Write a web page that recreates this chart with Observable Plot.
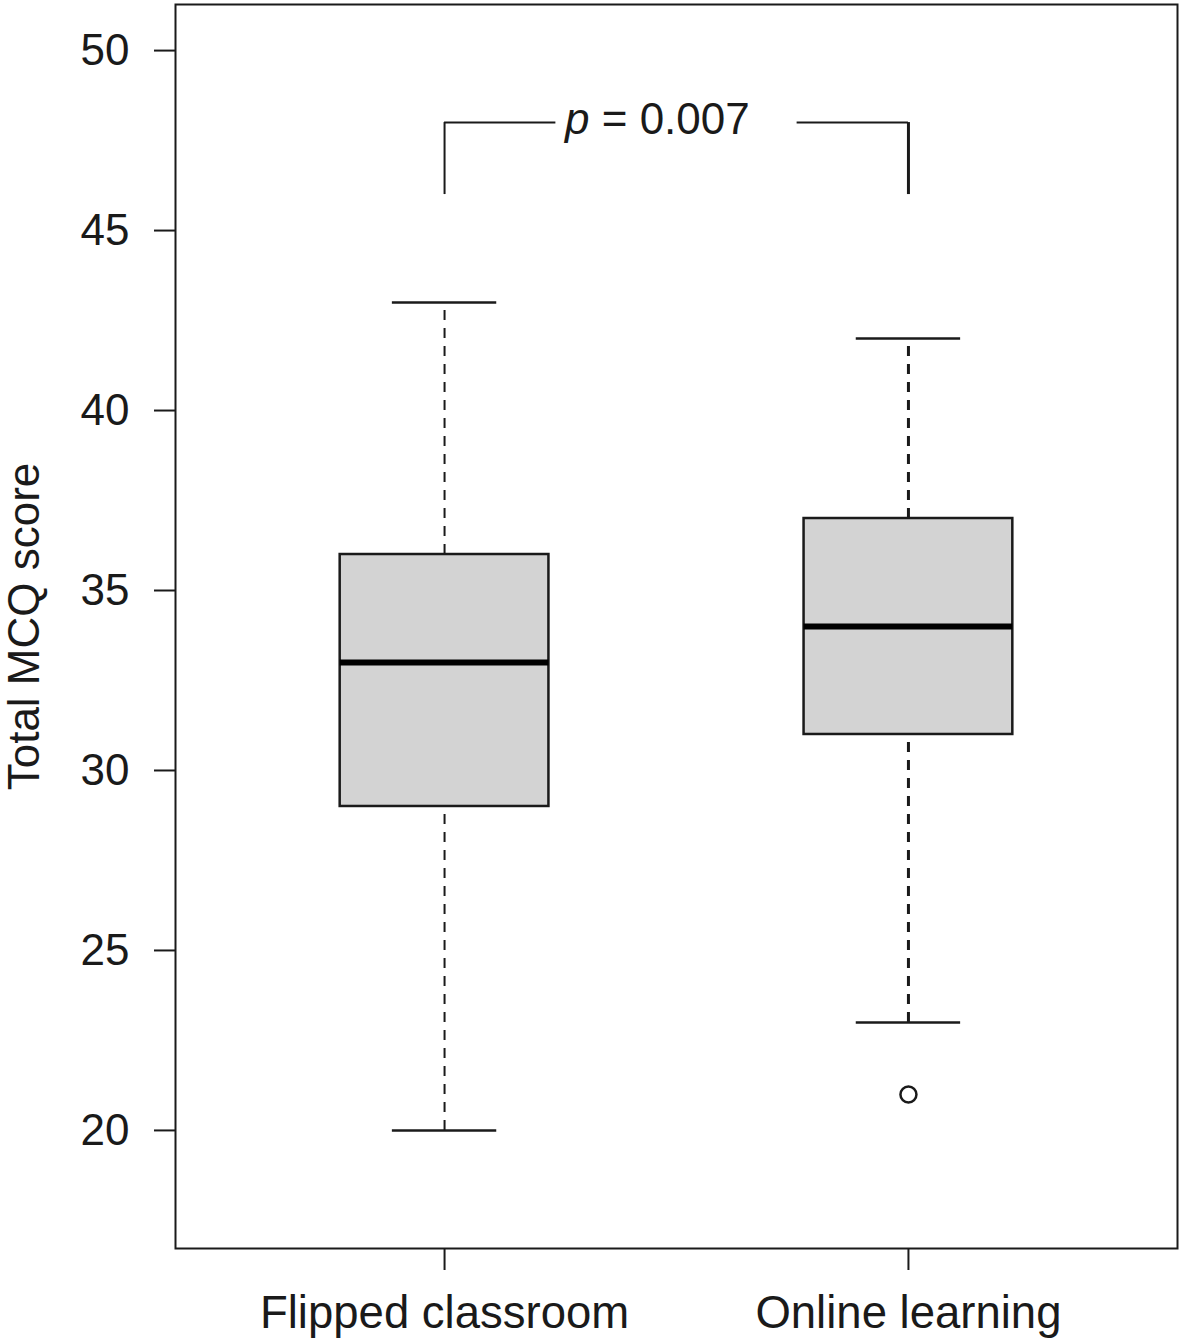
<!DOCTYPE html>
<html>
<head>
<meta charset="utf-8">
<script src="https://cdn.jsdelivr.net/npm/d3@7"></script>
<script src="https://cdn.jsdelivr.net/npm/@observablehq/plot@0.6"></script>
<style>
  html, body { margin: 0; padding: 0; background: #fff; }
  #chart svg { display: block; }
</style>
</head>
<body>
<div id="chart"></div>
<script>
// ---- data ----
const groups = ["Flipped classroom", "Online learning"];
const whiskerLow = [20, 23];
const q1 = [29, 31];
const median = [33, 34];
const q3 = [36, 37];
const whiskerHigh = [43, 42];
const outlierGroups = ["Online learning"];
const outlierValues = [21];
const yTicks = [20, 25, 30, 35, 40, 45, 50];
const pValueText = "0.007";
const bracketTop = 48;
const bracketBottom = 46;
const yLimits = [18, 50];

// ---- derived tables ----
const boxes = groups.map((g, i) => ({
  group: g, pos: i + 1,
  low: whiskerLow[i], q1: q1[i], med: median[i], q3: q3[i], high: whiskerHigh[i]
}));
const outliers = outlierGroups.map((g, i) => ({ pos: groups.indexOf(g) + 1, value: outlierValues[i] }));

const ext = (yLimits[1] - yLimits[0]) * 0.04;
const xExt = groups.length * 0.04;
const halfBox = 0.225, halfCap = 0.1125;
const ink = "#1a1a1a";
const font = "'Liberation Sans', Arial, Helvetica, sans-serif";
const mid = (1 + groups.length) / 2;
const gapHalf = 0.26;

const chart = Plot.plot({
  width: 1180,
  height: 1339,
  marginLeft: 175,
  marginRight: 3,
  marginTop: 4,
  marginBottom: 91,
  style: { fontFamily: font, background: "#fff", color: ink },
  x: { type: "linear", domain: [0.5 - xExt, groups.length + 0.5 + xExt], axis: null },
  y: { domain: [yLimits[0] - ext, yLimits[1] + ext], axis: null },
  marks: [
    // whiskers (dashed)
    Plot.ruleX(boxes, { x: "pos", y1: "q3", y2: "high", stroke: ink, strokeWidth: d => d.pos === 2 ? 3 : 2, strokeDasharray: "10,8" }),
    Plot.ruleX(boxes, { x: "pos", y1: "low", y2: "q1", stroke: ink, strokeWidth: d => d.pos === 2 ? 3 : 2, strokeDasharray: "10,8" }),
    // caps
    Plot.ruleY(boxes, { y: "high", x1: d => d.pos - halfCap, x2: d => d.pos + halfCap, stroke: ink, strokeWidth: 2.5 }),
    Plot.ruleY(boxes, { y: "low", x1: d => d.pos - halfCap, x2: d => d.pos + halfCap, stroke: ink, strokeWidth: 2.5 }),
    // boxes
    Plot.rect(boxes, { x1: d => d.pos - halfBox, x2: d => d.pos + halfBox, y1: "q1", y2: "q3", fill: "#d3d3d3", stroke: ink, strokeWidth: 2.5 }),
    // medians
    Plot.ruleY(boxes, { y: "med", x1: d => d.pos - halfBox, x2: d => d.pos + halfBox, stroke: "#000", strokeWidth: 6 }),
    // outliers
    Plot.dot(outliers, { x: "pos", y: "value", r: 8, stroke: ink, strokeWidth: 2.5, fill: "#fff" }),
    // significance bracket
    Plot.ruleY([bracketTop], { x1: 1, x2: mid - gapHalf, stroke: ink, strokeWidth: 2 }),
    Plot.ruleY([bracketTop], { x1: mid + gapHalf, x2: groups.length, stroke: ink, strokeWidth: 2 }),
    Plot.ruleX([1], { y1: bracketBottom, y2: bracketTop, stroke: ink, strokeWidth: 2 }),
    Plot.ruleX([groups.length], { y1: bracketBottom, y2: bracketTop, stroke: ink, strokeWidth: 3 }),
    Plot.text(["p"], { x: mid, y: bracketTop, text: d => d, textAnchor: "end", dx: -87, dy: -3, fontSize: 44, fontStyle: "italic", fill: ink }),
    Plot.text([" = " + pValueText], { x: mid, y: bracketTop, text: d => d, textAnchor: "start", dx: -87, dy: -3, fontSize: 44, fill: ink }),
    // axes
    Plot.axisY({ ticks: yTicks, tickSize: 21, tickPadding: 25, fontSize: 44, label: null, stroke: ink, strokeWidth: 2, fill: ink }),
    Plot.axisX({ ticks: groups.map((g, i) => i + 1), tickFormat: v => groups[v - 1], tickSize: 22, tickPadding: 25, fontSize: 45.5, label: null, stroke: ink, strokeWidth: 2, fill: ink }),
    // y title
    Plot.text(["Total MCQ score"], { frameAnchor: "left", text: d => d, rotate: -90, dx: -151, fontSize: 44, fill: ink, lineAnchor: "middle", textAnchor: "middle" }),
    // frame
    Plot.frame({ stroke: ink, strokeWidth: 2 })
  ]
});
document.getElementById("chart").appendChild(chart);
</script>
</body>
</html>
